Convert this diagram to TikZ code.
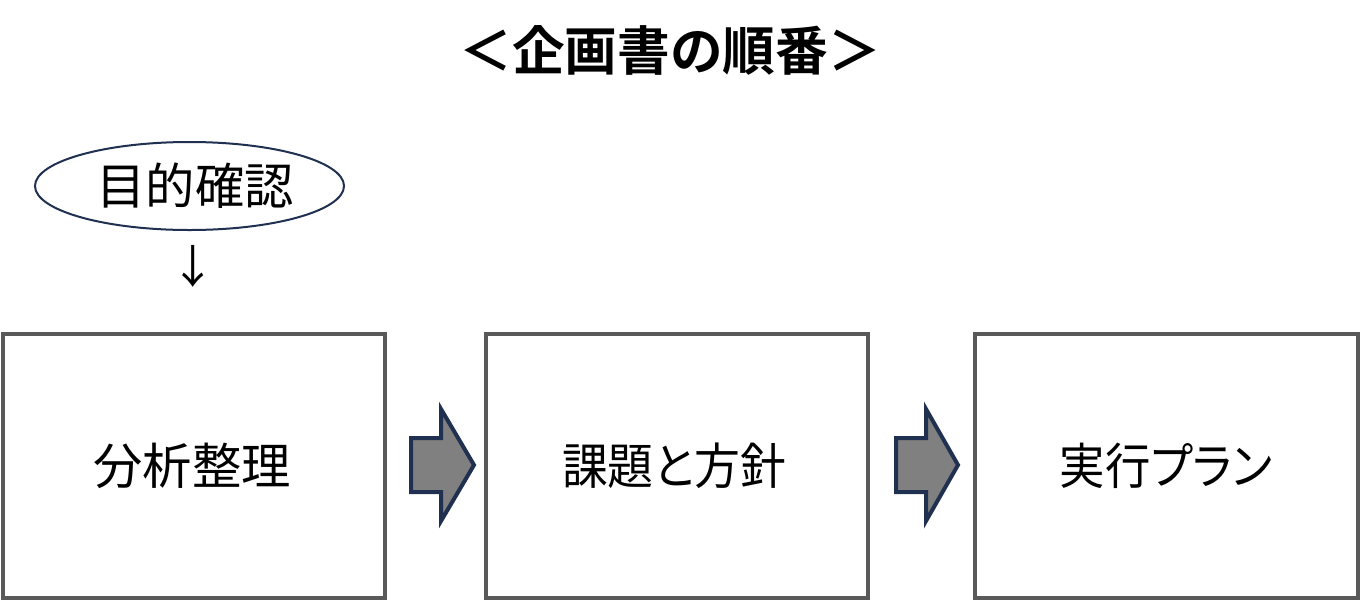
\documentclass[tikz,border=0pt]{standalone}
\usepackage{fontspec}
\setmainfont{Noto Sans CJK JP}
\newfontfamily\jpbold{Noto Sans CJK JP Bold}
\newfontfamily\jpprop[RawFeature=+palt]{Noto Sans CJK JP}
\usetikzlibrary{shapes.geometric}
\definecolor{boxgray}{HTML}{595959}
\definecolor{navy}{HTML}{1F3050}
\definecolor{fillgray}{HTML}{808080}
\tikzset{
  stepbox/.style={draw=boxgray, line width=2.6pt, fill=white, inner sep=0pt},
  boxtext/.style={font=\fontsize{37}{40}\selectfont, inner sep=0pt},
  proptext/.style={font=\jpprop\fontsize{37}{40}\selectfont, inner sep=0pt},
  bigarrow/.style={draw=navy, line width=3pt, fill=fillgray, line join=miter},
}
\begin{document}
\begin{tikzpicture}[x=0.75pt,y=-0.75pt]
\useasboundingbox (0,0) rectangle (1361,601);
% title
\node[font=\jpbold\fontsize{39.5}{42}\selectfont, inner sep=0pt] (title) at (670,50) {＜企画書の順番＞};
% ellipse
\node[draw=navy, line width=1.5pt, ellipse, minimum width=231.75pt, minimum height=66pt, inner sep=0pt] (goal) at (189.5,186) {};
\node[boxtext] (goaltext) at (195,186) {目的確認};
\node[font=\fontsize{34}{36}\selectfont, inner sep=0pt] (down) at (193,266) {↓};
% boxes
\draw[stepbox] (3,334) rectangle (385,598);
\coordinate (b1) at (192,466);
\node[boxtext] (t1) at (b1) {分析整理};
\draw[stepbox] (486,334) rectangle (868,598);
\coordinate (b2) at (674,466);
\node[proptext] (t2) at (b2) {\scalebox{0.93}[1]{課題と方針}};
\draw[stepbox] (975,334) rectangle (1358,598);
\coordinate (b3) at (1166,466);
\node[proptext] (t3) at (b3) {\scalebox{0.92}[1]{実行プラン}};
% arrows
\draw[bigarrow] (411,438) -- (441,438) -- (441,409) -- (474,465) -- (441,521) -- (441,492) -- (411,492) -- cycle;
\draw[bigarrow] (896,438) -- (926,438) -- (926,409) -- (958,465) -- (926,521) -- (926,492) -- (896,492) -- cycle;
\end{tikzpicture}
\end{document}
